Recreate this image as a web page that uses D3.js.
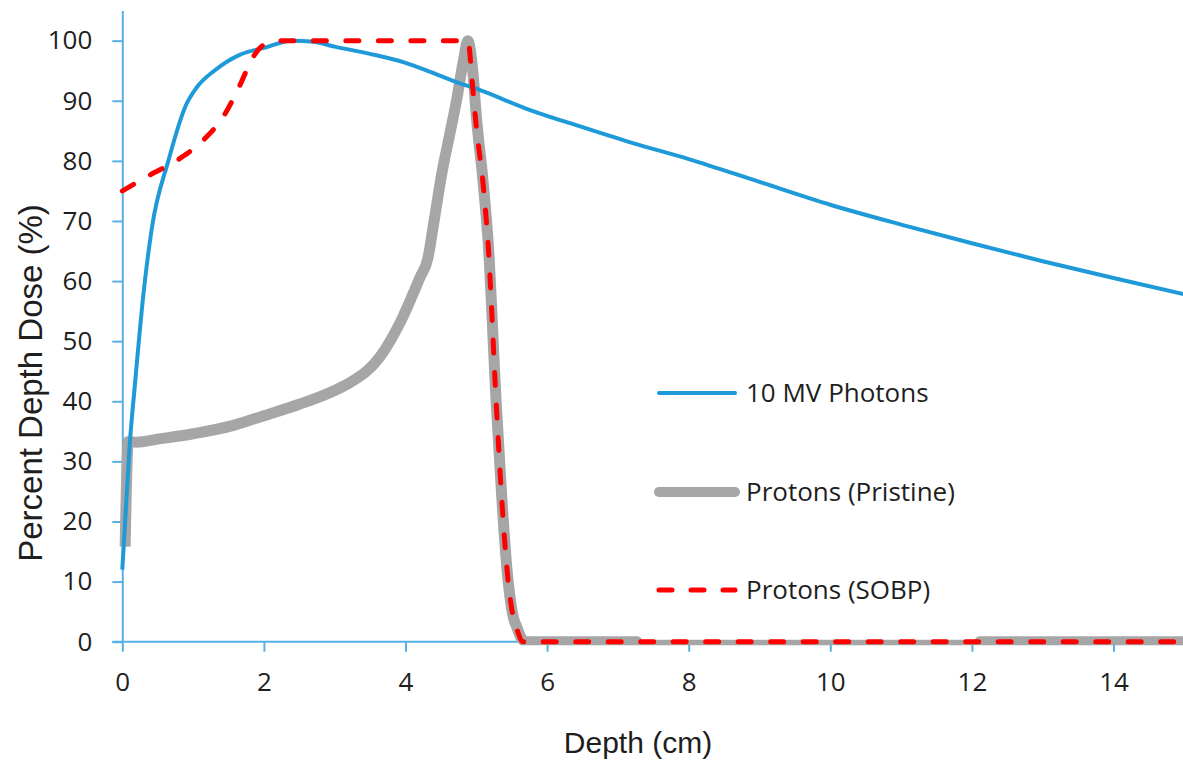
<!DOCTYPE html>
<html lang="en">
<head>
    <meta charset="UTF-8">
    <script src="https://d3js.org/d3.v7.min.js" charset="utf-8"></script>
    <title>Percent Depth Dose</title>
    <style>
        body { margin: 0; background: #fff; }
        .tick text { font-family: "Open Sans", sans-serif; font-size: 26px; fill: #1e1e1e; }
        .axis-title { font-family: "Liberation Sans", Arial, sans-serif; font-size: 30px; fill: #1e1e1e; }
        .legend text { font-family: "Open Sans", sans-serif; font-size: 26px; fill: #1e1e1e; }
    </style>
</head>
<body>
    <div id="chart"></div>
    <script>
        const width = 1183;
        const height = 762;

        // 10 MV photons, [depth cm, dose %]
        const photons = [
            [0, 12], [0.05, 22], [0.1, 32], [0.18, 43], [0.3, 58], [0.42, 69], [0.65, 80],
            [0.9, 89.3], [1.05, 92.2], [1.3, 95], [1.65, 97.6], [2, 98.8], [2.4, 100],
            [2.7, 99.8], [3, 99], [3.5, 97.8], [4, 96.3], [4.35, 94.8], [4.7, 93.2],
            [5, 92], [5.75, 88.5], [6.5, 85.6], [7.2, 83], [8, 80.3], [9, 76.5],
            [10, 72.7], [11, 69.4], [12, 66.3], [13, 63.3], [14, 60.5], [15, 57.8]
        ];

        // pristine Bragg peak
        const pristine = [
            [0.04, 15.8], [0.085, 33.3], [0.2, 33.2], [0.5, 33.7], [1, 34.6], [1.57, 36],
            [2, 37.6], [2.5, 39.5], [3, 41.8], [3.2, 43], [3.64, 47.4], [3.92, 53],
            [4.2, 60.5], [4.32, 64], [4.39, 69], [4.53, 79], [4.6, 83], [4.72, 90],
            [4.82, 96.8], [4.88, 100], [4.95, 95], [5.0, 87.5], [5.1, 76],
            [5.17, 66], [5.28, 40], [5.36, 24], [5.43, 12.5], [5.52, 4.2], [5.57, 2.5],
            [5.64, 0.5], [5.7, 0], [7.27, 0], [7.28, -0.6], [12.1, -0.6], [12.11, 0], [15, 0]
        ];

        // spread-out Bragg peak
        const sobp = [
            [0, 75], [0.4, 77.7], [0.8, 80.3], [1.15, 83.5], [1.45, 87.8], [1.65, 92.3],
            [1.85, 97.3], [2, 99.3], [2.25, 100], [4.88, 100], [4.95, 92], [5.0, 85.7],
            [5.1, 75.7], [5.17, 65.5], [5.28, 40], [5.36, 23.6], [5.43, 12.5], [5.52, 4.2],
            [5.57, 2.2], [5.66, 0], [15, 0]
        ];

        const xTicks = [0, 2, 4, 6, 8, 10, 12, 14];
        const yTicks = [0, 10, 20, 30, 40, 50, 60, 70, 80, 90, 100];
        const legendLabels = ["10 MV Photons", "Protons (Pristine)", "Protons (SOBP)"];

        const margin = { left: 122.3, right: -1.3, top: 10.6, bottom: 120.3 };
        const axisColor = "#56b0e6";

        const svg = d3.select("#chart").append("svg")
            .attr("width", width)
            .attr("height", height);

        const x = d3.scaleLinear().domain([0, 15]).range([margin.left, width - margin.right]);
        const y = d3.scaleLinear().domain([0, 105]).range([height - margin.bottom, margin.top]);

        // axes
        const xAxis = svg.append("g")
            .attr("transform", `translate(0,${y(0)})`)
            .call(d3.axisBottom(x).tickValues(xTicks).tickSize(10).tickSizeOuter(0).tickPadding(21));
        const yAxis = svg.append("g")
            .attr("transform", `translate(${x(0)},0)`)
            .call(d3.axisLeft(y).tickValues(yTicks).tickSize(10).tickSizeOuter(0).tickPadding(20));

        [xAxis, yAxis].forEach(a => {
            a.attr("font-family", null).attr("font-size", null);
            a.select(".domain").attr("stroke", axisColor).attr("stroke-width", 2);
            a.selectAll(".tick line").attr("stroke", axisColor).attr("stroke-width", 2);
        });
        // x axis line also reaches left to the y tick length
        xAxis.select(".domain").attr("d", `M${x(0) - 10},0H${x(15)}`);

        // titles
        svg.append("text")
            .attr("class", "axis-title")
            .attr("x", 638)
            .attr("y", 753)
            .attr("text-anchor", "middle")
            .text("Depth (cm)");

        svg.append("text")
            .attr("class", "axis-title")
            .attr("transform", `translate(42,383) rotate(-90)`)
            .attr("text-anchor", "middle")
            .style("font-size", "33px")
            .text("Percent Depth Dose (%)");

        // clip just below baseline
        svg.append("clipPath").attr("id", "plotClip")
            .append("rect")
            .attr("x", 0).attr("y", 0)
            .attr("width", width)
            .attr("height", y(0) + 3.5);

        const smoothLine = d3.line().x(d => x(d[0])).y(d => y(d[1])).curve(d3.curveMonotoneX);

        const plot = svg.append("g").attr("clip-path", "url(#plotClip)");

        plot.append("path")
            .datum(pristine)
            .attr("d", smoothLine)
            .attr("fill", "none")
            .attr("stroke", "#a6a6a6")
            .attr("stroke-width", 11)
            .attr("stroke-linejoin", "round");

        plot.append("path")
            .datum(photons)
            .attr("d", smoothLine)
            .attr("fill", "none")
            .attr("stroke", "#1e9ad8")
            .attr("stroke-width", 4);

        plot.append("path")
            .datum(sobp)
            .attr("d", smoothLine)
            .attr("fill", "none")
            .attr("stroke", "#ff0000")
            .attr("stroke-width", 5)
            .attr("stroke-linecap", "round")
            .attr("stroke-linejoin", "round")
            .attr("stroke-dasharray", "13,19.5");

        // legend
        const legend = svg.append("g").attr("class", "legend");
        const legendY = [393, 492, 590];
        const legendStyles = [
            { stroke: "#1e9ad8", width: 4, dash: null },
            { stroke: "#a6a6a6", width: 10, dash: null },
            { stroke: "#ff0000", width: 5, dash: "13,19" }
        ];
        legendLabels.forEach((label, i) => {
            const s = legendStyles[i];
            legend.append("line")
                .attr("x1", 659).attr("x2", 735)
                .attr("y1", legendY[i]).attr("y2", legendY[i])
                .attr("stroke", s.stroke)
                .attr("stroke-width", s.width)
                .attr("stroke-linecap", "round")
                .attr("stroke-dasharray", s.dash);
            legend.append("text")
                .attr("x", 746)
                .attr("y", legendY[i])
                .attr("dy", "0.35em")
                .text(label);
        });
    </script>
</body>
</html>
